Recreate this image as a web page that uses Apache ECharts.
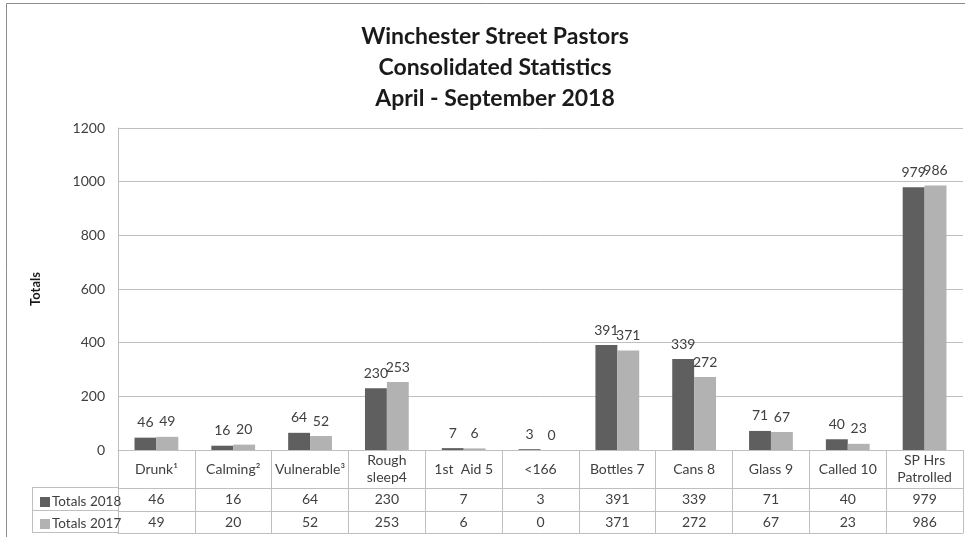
<!DOCTYPE html>
<html>
<head>
<meta charset="utf-8">
<script src="https://cdn.jsdelivr.net/npm/echarts@6/dist/echarts.min.js"></script>
<style>html,body{margin:0;padding:0;background:#fff;}#c{width:965px;height:537px;}</style>
</head>
<body>
<div id="c"></div>
<script>
var categories = ['Drunk\u00b9', 'Calming\u00b2', 'Vulnerable\u00b3', 'Rough\nsleep4', '1st  Aid 5', '<166', 'Bottles 7', 'Cans 8', 'Glass 9', 'Called 10', 'SP Hrs\nPatrolled'];
var totals2018 = [46, 16, 64, 230, 7, 3, 391, 339, 71, 40, 979];
var totals2017 = [49, 20, 52, 253, 6, 0, 371, 272, 67, 23, 986];
var seriesNames = ['Totals 2018', 'Totals 2017'];
var titleLines = ['Winchester Street Pastors', 'Consolidated Statistics', 'April - September 2018'];
var yTicks = {min: 0, max: 1200, interval: 200};

var FONT = 'Lato';
var TXT = '#404040';
var LINE = '#bfbfbf';

var chart = echarts.init(document.getElementById('c'));
var tableAxis = function (data, offset, margin, showLabel) {
  return {
    type: 'category', gridIndex: 0, position: 'bottom', offset: offset,
    data: data.map(String),
    axisLine: {show: true, lineStyle: {color: LINE, width: 1}},
    axisTick: {show: false},
    axisLabel: {show: showLabel, interval: 0, margin: margin, verticalAlign: 'middle',
      color: TXT, fontSize: 14, fontFamily: FONT},
    splitLine: {show: false}
  };
};
chart.setOption({
  animation: false,
  backgroundColor: '#fff',
  textStyle: {fontFamily: FONT},
  title: {
    text: titleLines.join('\n'),
    left: 490, top: 16, textAlign: 'center',
    textStyle: {fontFamily: 'Lato', fontWeight: 'bold', fontSize: 23, lineHeight: 31, color: '#1a1a1a'}
  },
  legend: {
    orient: 'vertical', left: 35, top: 490, itemGap: 8, itemWidth: 10, itemHeight: 10,
    icon: 'rect', data: seriesNames,
    textStyle: {color: TXT, fontSize: 13.5, fontFamily: FONT, padding: [0, 0, 0, -3]}
  },
  grid: {left: 118, right: 2, top: 128, bottom: 87, containLabel: false},
  yAxis: {
    type: 'value', min: yTicks.min, max: yTicks.max, interval: yTicks.interval,
    name: 'Totals', nameLocation: 'middle', nameGap: 76,
    nameTextStyle: {fontWeight: 'bold', fontSize: 13, color: '#1a1a1a', fontFamily: FONT},
    axisLine: {show: true, lineStyle: {color: LINE}},
    axisTick: {show: false},
    axisLabel: {color: TXT, fontSize: 14, margin: 13, fontFamily: FONT, formatter: function (v) { return String(v); }},
    splitLine: {lineStyle: {color: LINE, width: 1}}
  },
  xAxis: [
    {
      type: 'category', data: categories, position: 'bottom',
      axisLine: {show: true, lineStyle: {color: LINE}},
      axisTick: {show: true, interval: 0, length: 83, lineStyle: {color: LINE}},
      axisLabel: {interval: 0, margin: 19, verticalAlign: 'middle', align: 'center', color: TXT,
        fontSize: 14, lineHeight: 17, fontFamily: FONT},
      splitLine: {show: false}
    },
    tableAxis(totals2018, 38, 11, true),
    tableAxis(totals2017, 61, 11, true),
    tableAxis(categories.map(function(){return '';}), 83, 0, false)
  ],
  graphic: [
    {type: 'rect', shape: {x: 6.5, y: 3.5, width: 1000, height: 600}, style: {fill: 'none', stroke: '#8c8c8c', lineWidth: 1}, silent: true},
    {type: 'line', shape: {x1: 32, y1: 487.5, x2: 118, y2: 487.5}, style: {stroke: LINE, lineWidth: 1}},
    {type: 'line', shape: {x1: 32, y1: 510.5, x2: 118, y2: 510.5}, style: {stroke: LINE, lineWidth: 1}},
    {type: 'line', shape: {x1: 32, y1: 532.5, x2: 118, y2: 532.5}, style: {stroke: LINE, lineWidth: 1}},
    {type: 'line', shape: {x1: 32.5, y1: 487, x2: 32.5, y2: 533}, style: {stroke: LINE, lineWidth: 1}}
  ],
  series: [
    {
      name: seriesNames[0], type: 'bar', data: totals2018, xAxisIndex: 0,
      barGap: '0%', barCategoryGap: '43%',
      itemStyle: {color: '#5f5f5f'},
      label: {show: true, position: 'top', distance: 8, color: TXT, fontSize: 14, fontFamily: FONT}
    },
    {
      name: seriesNames[1], type: 'bar', data: totals2017, xAxisIndex: 0,
      barGap: '0%', barCategoryGap: '43%',
      itemStyle: {color: '#b2b2b2'},
      label: {show: true, position: 'top', distance: 8, color: TXT, fontSize: 14, fontFamily: FONT}
    }
  ]
});
</script>
</body>
</html>
